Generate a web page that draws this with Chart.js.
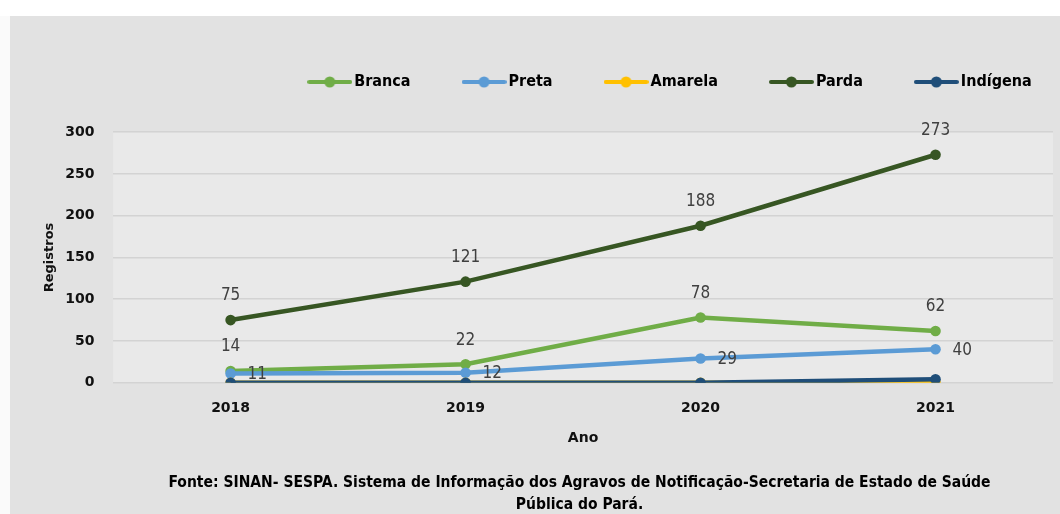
<!DOCTYPE html>
<html><head><meta charset="utf-8">
<script src="https://cdn.jsdelivr.net/npm/chart.js@4.4.1/dist/chart.umd.min.js"></script>
<style>
html,body{margin:0;padding:0;background:#fff;width:1060px;height:514px;overflow:hidden}
#strip{position:absolute;left:0;top:16px;width:10px;height:498px;background:#fafafa}
#panel{position:absolute;left:10px;top:16px;width:1050px;height:498px;background:#e2e2e2}
canvas{display:block}
</style></head><body>
<div id="strip"></div>
<div id="panel"><canvas id="c" width="1050" height="498" style="width:1050px;height:498px"></canvas></div>
<script>
// ---- data ----
const categories = ['2018', '2019', '2020', '2021'];
const seriesNames = ['Branca', 'Preta', 'Amarela', 'Parda', 'Indígena'];
const branca   = [14, 22, 78, 62];
const preta    = [11, 12, 29, 40];
const amarela  = [0, 0, 0, 0];
const parda    = [75, 121, 188, 273];
const indigena = [0, 0, 0, 4];
const yTickValues = [0, 50, 100, 150, 200, 250, 300];
const xTitle = 'Ano';
const yTitle = 'Registros';
const footerLines = [
  'Fonte: SINAN- SESPA. Sistema de Informação dos Agravos de Notificação-Secretaria de Estado de Saúde',
  'Pública do Pará.'
];

// ---- styles ----
const colors = ['#70ad47', '#5b9bd5', '#ffc000', '#375623', '#1f4e79'];
const narrow = "'Liberation Sans Narrow', 'DejaVu Sans Condensed', 'Roboto', sans-serif";
const wide = "'DejaVu Sans', sans-serif";
const LEGEND_DX = 131;
const FOOTER_DX = 38;

function legendIcon(color) {
  const c = document.createElement('canvas');
  c.width = 45; c.height = 12;
  const g = c.getContext('2d');
  g.strokeStyle = color; g.lineWidth = 4; g.lineCap = 'round';
  g.beginPath(); g.moveTo(2, 6); g.lineTo(43, 6); g.stroke();
  g.fillStyle = color; g.beginPath(); g.arc(22.5, 6, 5.5, 0, Math.PI * 2); g.fill();
  return c;
}
const icons = colors.map(legendIcon);

const plotBg = {
  id: 'plotBg',
  beforeDraw(chart) {
    const { ctx, chartArea: a } = chart;
    ctx.save();
    ctx.fillStyle = '#e9e9e9';
    ctx.fillRect(a.left, a.top, a.right - a.left, a.bottom - a.top);
    ctx.restore();
  }
};
const boxShift = {
  id: 'boxShift',
  afterLayout(chart) {
    chart.legend.left += LEGEND_DX;
    chart.legend.right += LEGEND_DX;
    chart.titleBlock.left += FOOTER_DX;
    chart.titleBlock.right += FOOTER_DX;
  }
};
const valueLabels = {
  id: 'valueLabels',
  afterDatasetsDraw(chart) {
    const ctx = chart.ctx;
    chart.data.datasets.forEach((ds, i) => {
      if (!ds.labelPos) return;
      const meta = chart.getDatasetMeta(i);
      meta.data.forEach((pt, j) => {
        ctx.save();
        ctx.font = "17px " + narrow;
        ctx.fillStyle = '#404040';
        ctx.textBaseline = 'middle';
        if (ds.labelPos === 'top') {
          ctx.textAlign = 'center';
          ctx.fillText(String(ds.data[j]), pt.x, pt.y - 24);
        } else {
          ctx.textAlign = 'left';
          ctx.fillText(String(ds.data[j]), pt.x + 17, pt.y + 1);
        }
        ctx.restore();
      });
    });
  }
};

function ds(label, data, color, order, labelPos) {
  return {
    label, data, order, labelPos,
    borderColor: color, backgroundColor: color,
    pointBackgroundColor: color, pointBorderColor: color,
    borderWidth: 4.5, pointRadius: 5.3, pointBorderWidth: 0,
    pointHoverRadius: 5.3, tension: 0, fill: false
  };
}

new Chart(document.getElementById('c'), {
  type: 'line',
  data: {
    labels: categories,
    datasets: [
      ds(seriesNames[0], branca, colors[0], 3, 'top'),
      ds(seriesNames[1], preta, colors[1], 2, 'right'),
      ds(seriesNames[2], amarela, colors[2], 1, null),
      ds(seriesNames[3], parda, colors[3], 4, 'top'),
      ds(seriesNames[4], indigena, colors[4], 0, null)
    ]
  },
  options: {
    responsive: false,
    animation: false,
    layout: { padding: { left: 20, right: 7, top: 1, bottom: 0 } },
    plugins: {
      tooltip: { enabled: false },
      legend: {
        position: 'top',
        align: 'center',
        labels: {
          usePointStyle: true,
          pointStyleWidth: 33,
          padding: 57,
          color: '#000',
          font: { family: narrow, size: 16, weight: 'bold' },
          generateLabels(chart) {
            const items = Chart.defaults.plugins.legend.labels.generateLabels(chart);
            items.sort((a, b) => a.datasetIndex - b.datasetIndex);
            items.forEach((it) => { it.pointStyle = icons[it.datasetIndex]; it.rotation = 0; });
            return items;
          }
        }
      },
      subtitle: {
        display: true, text: '', position: 'top', weight: 500,
        font: { size: 10, lineHeight: 1 }, padding: { top: 22.2, bottom: 0 }
      },
      title: {
        display: true, text: footerLines, position: 'bottom', color: '#000',
        font: { family: narrow, size: 15.5, weight: 'bold', lineHeight: 22 / 15.5 },
        padding: { top: 25.7, bottom: -2 }
      }
    },
    scales: {
      x: {
        offset: true,
        grid: { display: false, drawTicks: false },
        border: { display: false },
        ticks: { padding: 17, color: '#111', font: { family: wide, size: 14, weight: 'bold' } },
        title: { display: true, text: xTitle, color: '#111', padding: { top: -4, bottom: 0 },
                 font: { family: wide, size: 14, weight: 'bold' } }
      },
      y: {
        min: 0, max: 300,
        afterBuildTicks(scale) { scale.ticks = yTickValues.map(v => ({ value: v })); },
        grid: { color: '#d3d3d3', lineWidth: 1.5, drawTicks: false },
        border: { display: false },
        ticks: { padding: 18.7, color: '#111', font: { family: wide, size: 14, weight: 'bold' } },
        title: { display: true, text: yTitle, color: '#111', padding: { top: 12.2, bottom: -11.3 },
                 font: { family: wide, size: 13, weight: 'bold' } }
      }
    }
  },
  plugins: [plotBg, boxShift, valueLabels]
});
</script>
</body></html>
